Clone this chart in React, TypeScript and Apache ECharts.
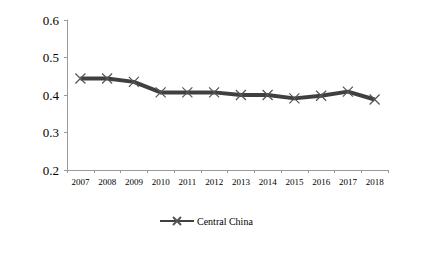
import React, { useEffect, useRef } from "react";
import * as echarts from "echarts";

const categories = ["2007", "2008", "2009", "2010", "2011", "2012", "2013", "2014", "2015", "2016", "2017", "2018"];
const centralChina = [0.444, 0.444, 0.435, 0.407, 0.407, 0.407, 0.4, 0.4, 0.391, 0.398, 0.409, 0.388];
const seriesName = "Central China";

export default function App() {
  const ref = useRef<HTMLDivElement>(null);
  useEffect(() => {
    const chart = echarts.init(ref.current!, null, { renderer: "svg" });
    const font = "'Liberation Serif', 'Times New Roman', serif";
    chart.setOption({
      animation: false,
      backgroundColor: "#ffffff",
      grid: { left: 67, right: 60, top: 20, bottom: 87, containLabel: false },
      legend: {
        data: [seriesName],
        left: 154,
        top: 211,
        itemWidth: 34,
        itemHeight: 10,
        itemGap: 4,
        textStyle: { fontFamily: font, fontSize: 10, color: "#000", padding: [0, 0, 0, -2] },
      },
      xAxis: {
        type: "category",
        data: categories,
        boundaryGap: true,
        axisLine: { lineStyle: { color: "#9a9a9a", width: 1 } },
        axisTick: { show: true, length: 3, lineStyle: { color: "#9a9a9a" } },
        axisLabel: { fontFamily: font, fontSize: 9, color: "#000", margin: 7 },
        splitLine: { show: false },
      },
      yAxis: {
        type: "value",
        min: 0.2,
        max: 0.6,
        interval: 0.1,
        axisLine: { show: true, lineStyle: { color: "#9a9a9a", width: 1 } },
        axisTick: { show: true, length: 3, lineStyle: { color: "#9a9a9a" } },
        axisLabel: { fontFamily: font, fontSize: 13, color: "#000", margin: 8, formatter: (v: number) => v.toFixed(1) },
        splitLine: { show: false },
      },
      series: [
        {
          name: seriesName,
          type: "line",
          data: centralChina,
          symbol: "path://M0,0L10,10M10,0L0,10",
          symbolSize: 10,
          showSymbol: true,
          lineStyle: { color: "#404040", width: 4 },
          itemStyle: { color: "transparent", borderColor: "#555555", borderWidth: 1.2 },
        },
      ],
    });
    return () => chart.dispose();
  }, []);
  return <div ref={ref} style={{ width: 448, height: 257, position: "absolute", left: 0, top: 0 }} />;
}
